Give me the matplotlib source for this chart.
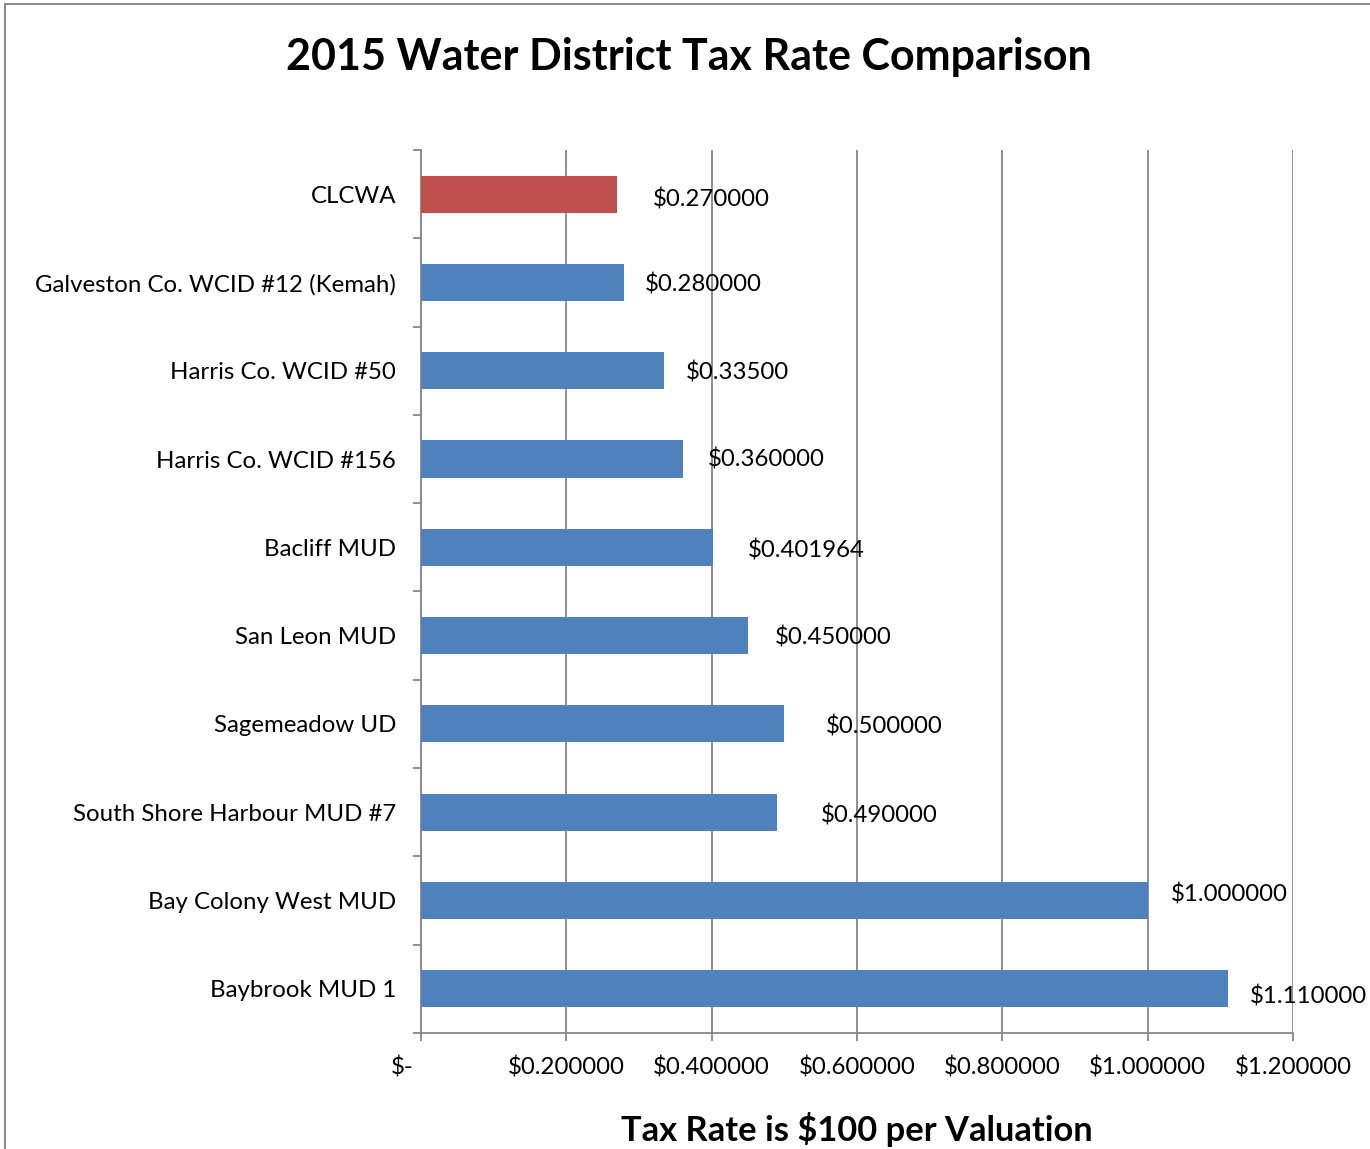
import matplotlib
matplotlib.use("Agg")
import matplotlib.pyplot as plt
import matplotlib.transforms as mtransforms
from matplotlib.patches import Rectangle

plt.rcParams["font.family"] = ["Lato", "DejaVu Sans"]

districts = [
    "CLCWA",
    "Galveston Co. WCID #12 (Kemah)",
    "Harris Co. WCID #50",
    "Harris Co. WCID #156",
    "Bacliff MUD",
    "San Leon MUD",
    "Sagemeadow UD",
    "South Shore Harbour MUD #7",
    "Bay Colony West MUD",
    "Baybrook MUD 1",
]
rates = [0.27, 0.28, 0.335, 0.36, 0.401964, 0.45, 0.50, 0.49, 1.00, 1.11]
rate_labels = ["$0.270000", "$0.280000", "$0.33500", "$0.360000", "$0.401964",
               "$0.450000", "$0.500000", "$0.490000", "$1.000000", "$1.110000"]
x_ticks = [0, 0.2, 0.4, 0.6, 0.8, 1.0, 1.2]
x_tick_labels = ["$-", "$0.200000", "$0.400000", "$0.600000", "$0.800000",
                 "$1.000000", "$1.200000"]

# label placement offsets (pixels) as they sit in the original chart
label_dx = [36, 20, 21, 25, 35, 27, 42, 44, 23, 22]
label_dy = [5, 2, 2, 0, 3, 2, 3, 3, -6, 8]

BLUE = "#4F81BD"
RED = "#C0504D"
GRID = "#868686"
FS = 17.3

fig = plt.figure(figsize=(13.7, 11.49), dpi=100)
fig.patches.append(Rectangle((0.0037, -0.1), 1.2, 1.0965, transform=fig.transFigure,
                             fill=False, edgecolor="#8C8C8C", linewidth=1.5))
ax = fig.add_axes([0.3073, 0.10096, 0.6365, 0.7685])

n = len(districts)
ypos = list(range(n))
colors = [RED] + [BLUE] * (n - 1)
ax.barh(ypos, rates, height=0.42, color=colors, zorder=3)

ax.set_xlim(0, 1.2)
ax.set_ylim(n - 0.5, -0.5)

ax.set_xticks(x_ticks)
ax.set_xticklabels(x_tick_labels, fontsize=FS)
ax.grid(axis="x", color=GRID, linewidth=1.3, zorder=0)

# category boundaries as major ticks, names on minor ticks
ax.set_yticks([i - 0.5 for i in range(n + 1)])
ax.set_yticklabels([])
ax.set_yticks(ypos, minor=True)
ax.set_yticklabels(districts, minor=True, fontsize=FS)
ax.tick_params(axis="y", which="major", length=6, width=1.3, color=GRID, direction="out")
ax.tick_params(axis="y", which="minor", length=0, pad=18)
ax.tick_params(axis="x", length=6, width=1.3, color=GRID, pad=11)

for side in ["top", "right"]:
    ax.spines[side].set_visible(False)
for side in ["left", "bottom"]:
    ax.spines[side].set_color(GRID)
    ax.spines[side].set_linewidth(1.3)

# Excel puts the "$-" label a bit to the left of zero
lbl0 = ax.get_xticklabels()[0]
lbl0.set_transform(lbl0.get_transform() + mtransforms.ScaledTranslation(-19 / 100, 0, fig.dpi_scale_trans))

for i, (v, txt) in enumerate(zip(rates, rate_labels)):
    ax.annotate(txt, xy=(v, i), xytext=(label_dx[i] * 0.72, -label_dy[i] * 0.72),
                textcoords="offset points", ha="left", va="center", fontsize=FS,
                annotation_clip=False, zorder=4)

fig.text(0.5025, 0.950, "2015 Water District Tax Rate Comparison", ha="center", va="center",
         fontsize=31, fontweight="bold")
ax.set_xlabel("Tax Rate is $100 per Valuation", fontsize=24.8, fontweight="bold", labelpad=24)

fig.savefig("out.png", dpi=100)
